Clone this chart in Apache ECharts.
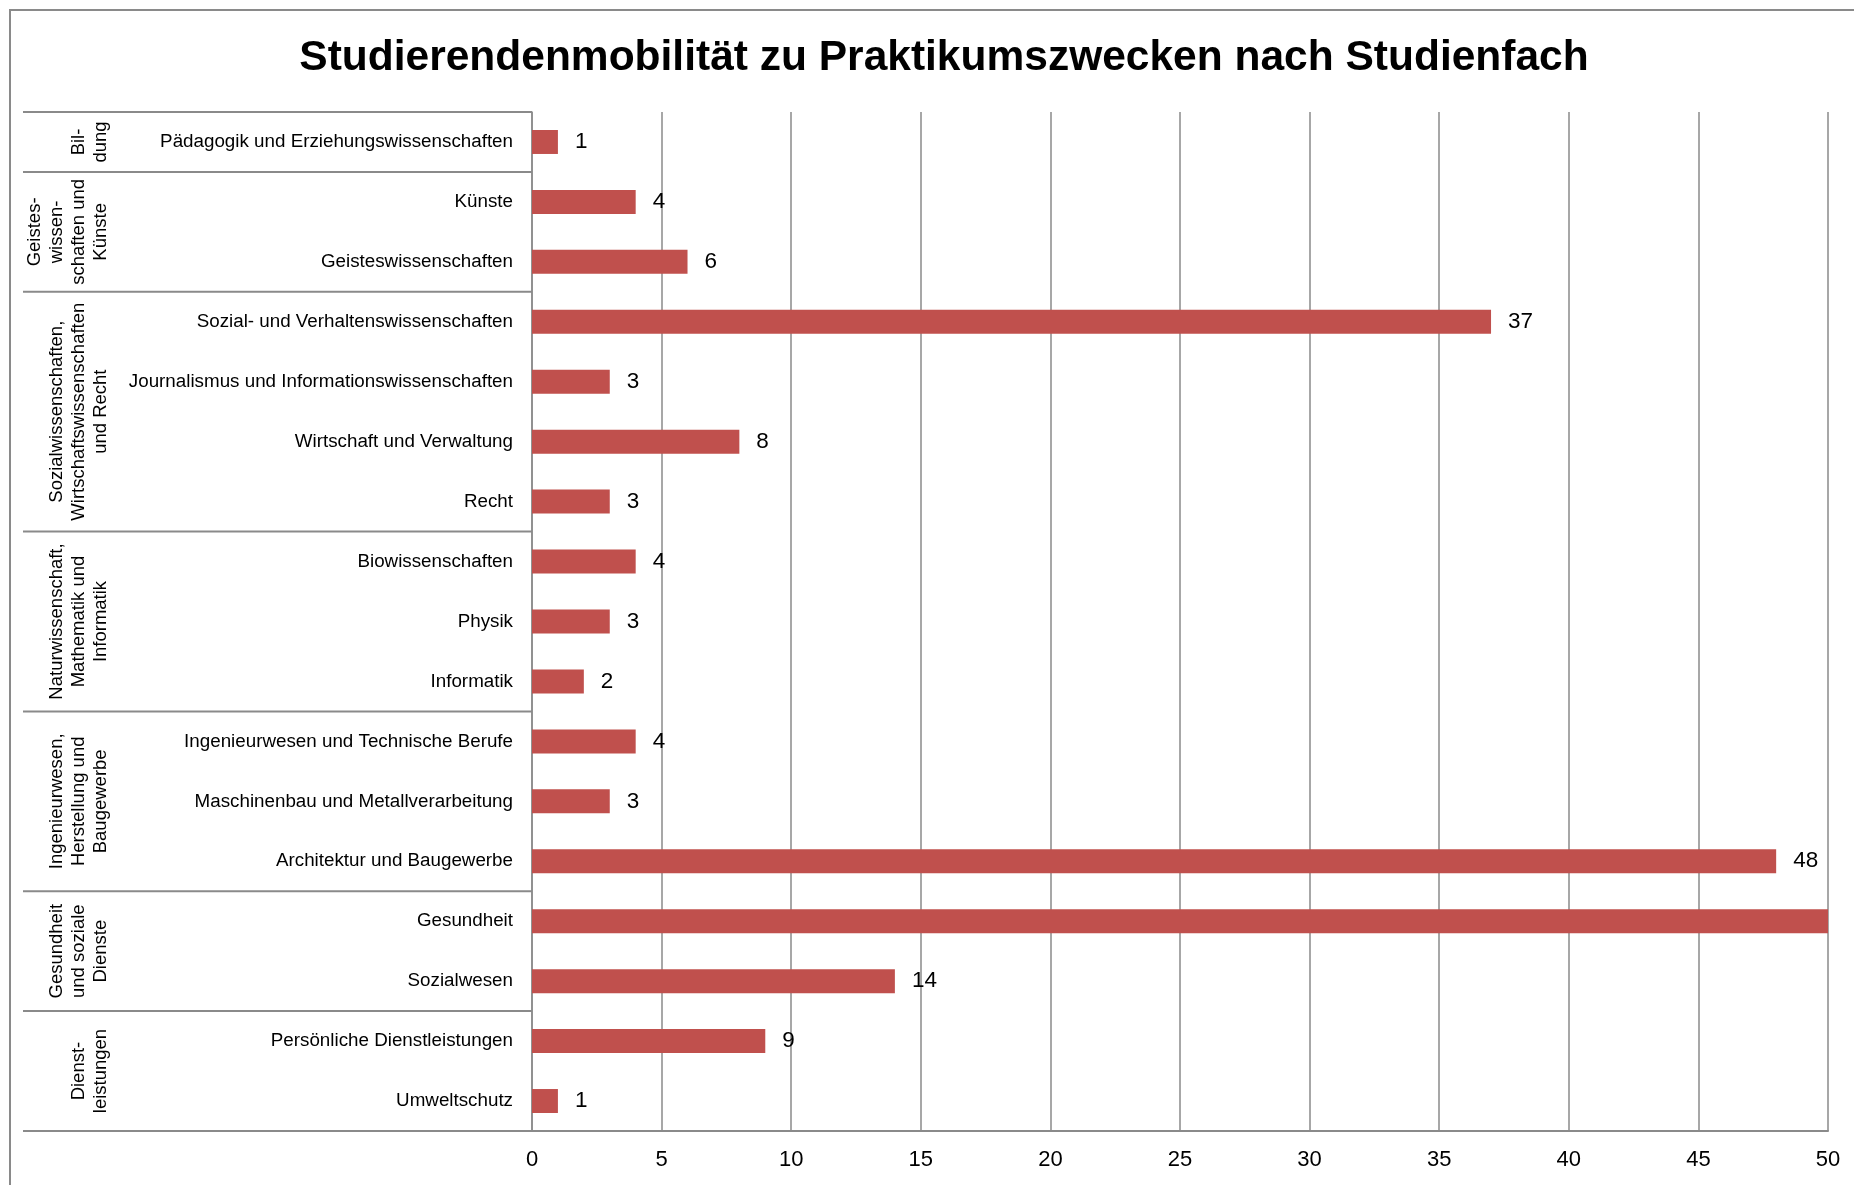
<!DOCTYPE html>
<html>
<head>
<meta charset="utf-8">
<script src="https://cdn.jsdelivr.net/npm/echarts@6/dist/echarts.min.js"></script>
<style>
  html, body { margin: 0; padding: 0; background: #fff; }
  #main { width: 1854px; height: 1185px; }
</style>
</head>
<body>
<div id="main"></div>
<script>
// Kategorien (Studienfächer), von oben nach unten
const categories = [
  'Pädagogik und Erziehungswissenschaften',
  'Künste',
  'Geisteswissenschaften',
  'Sozial- und Verhaltenswissenschaften',
  'Journalismus und Informationswissenschaften',
  'Wirtschaft und Verwaltung',
  'Recht',
  'Biowissenschaften',
  'Physik',
  'Informatik',
  'Ingenieurwesen und Technische Berufe',
  'Maschinenbau und Metallverarbeitung',
  'Architektur und Baugewerbe',
  'Gesundheit',
  'Sozialwesen',
  'Persönliche Dienstleistungen',
  'Umweltschutz'
];
// Gesundheit läuft über den Achsenbereich hinaus (Wert geschätzt)
const values = [1, 4, 6, 37, 3, 8, 3, 4, 3, 2, 4, 3, 48, 52, 14, 9, 1];

// Fachbereiche mit Anzahl der Fächer
const groupNames = [
  'Bil-\ndung',
  'Geistes-\nwissen-\nschaften und\nKünste',
  'Sozialwissenschaften,\nWirtschaftswissenschaften\nund Recht',
  'Naturwissenschaft,\nMathematik und\nInformatik',
  'Ingenieurwesen,\nHerstellung und\nBaugewerbe',
  'Gesundheit\nund soziale\nDienste',
  'Dienst-\nleistungen'
];
const groupSizes = [1, 2, 4, 3, 3, 2, 2];

const xMin = 0;
const xMax = 50;
const xStep = 5;

const FONT = '"Liberation Sans", Arial, sans-serif';
const GRAY = '#8a8a8a';

let myChart = echarts.init(document.getElementById('main'));
myChart.setOption({
  animation: false,
  title: {
    text: 'Studierendenmobilität zu Praktikumszwecken nach Studienfach',
    left: 939,
    top: 32,
    textAlign: 'center',
    textStyle: { fontFamily: FONT, fontSize: 42.5, fontWeight: 'bold', color: '#000' }
  },
  grid: { left: 532, right: 26, top: 112, bottom: 54, containLabel: false },
  xAxis: {
    type: 'value',
    min: xMin,
    max: xMax,
    interval: xStep,
    axisLine: { show: true, lineStyle: { color: GRAY, width: 2 } },
    axisTick: { show: false },
    axisLabel: { color: '#000', fontFamily: FONT, fontSize: 22, margin: 18 },
    splitLine: { show: true, lineStyle: { color: GRAY, width: 1.5 } }
  },
  yAxis: {
    type: 'category',
    inverse: true,
    data: categories,
    axisLine: { show: true, lineStyle: { color: GRAY, width: 1.5 } },
    axisTick: { show: false },
    axisLabel: { color: '#000', fontFamily: FONT, fontSize: 18.8, margin: 19 }
  },
  series: [{
    type: 'bar',
    data: values,
    barWidth: 24,
    itemStyle: { color: '#C0504D' },
    label: {
      show: true,
      position: 'right',
      distance: 17,
      color: '#000',
      fontFamily: FONT,
      fontSize: 22.5,
      formatter: p => (p.value > xMax ? '' : String(p.value))
    }
  }]
});

// Gruppenrahmen und -beschriftungen aus den Achsenpositionen
const yc = i => myChart.convertToPixel({ yAxisIndex: 0 }, categories[i]);
const rowH = yc(1) - yc(0);
const x0 = myChart.convertToPixel({ xAxisIndex: 0 }, xMin);
const boxLeft = 23;
const graphic = [{
  type: 'rect', z: -10, silent: true,
  shape: { x: 10, y: 10, width: 1900, height: 1300 },
  style: { fill: 'none', stroke: GRAY, lineWidth: 2 }
}];
let start = 0;
graphic.push({
  type: 'line', silent: true,
  shape: { x1: boxLeft, y1: yc(0) - rowH / 2, x2: x0, y2: yc(0) - rowH / 2 },
  style: { stroke: GRAY, lineWidth: 2 }
});
groupSizes.forEach((n, g) => {
  const top = yc(start) - rowH / 2;
  const bottom = yc(start + n - 1) + rowH / 2;
  graphic.push({
    type: 'line', silent: true,
    shape: { x1: boxLeft, y1: bottom, x2: x0, y2: bottom },
    style: { stroke: GRAY, lineWidth: 2 }
  });
  graphic.push({
    type: 'text', silent: true,
    x: 112, y: (top + bottom) / 2,
    rotation: Math.PI / 2,
    style: {
      text: groupNames[g],
      fontFamily: FONT, fontSize: 18.5, lineHeight: 22,
      fill: '#000', align: 'center', verticalAlign: 'bottom'
    }
  });
  start += n;
});
myChart.setOption({ graphic: graphic });
</script>
</body>
</html>
